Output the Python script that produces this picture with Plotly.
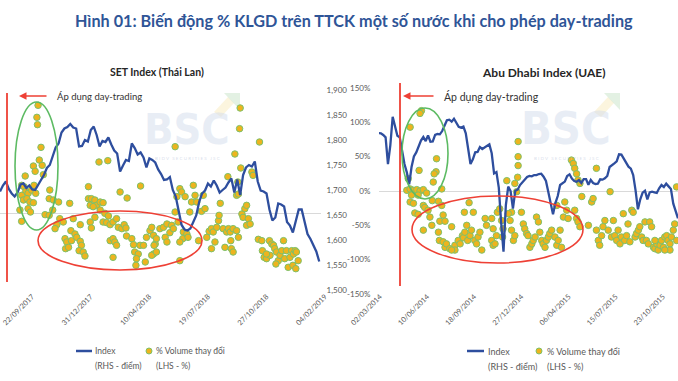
import pandas as pd
import plotly.graph_objects as go

W, H = 678, 381

# ---------------- SET Index (Thái Lan) ----------------
set_start = "2017-08-05"          # first point of the index series (5-day sampling)
set_index = [
    1697, 1709, 1717, 1702, 1693, 1687, 1695, 1711, 1713, 1704,
    1709, 1701, 1700, 1709, 1720, 1730, 1744, 1750, 1769, 1785,
    1793, 1815, 1823, 1826, 1832, 1825, 1823, 1787, 1788, 1800,
    1797, 1820, 1827, 1810, 1787, 1798, 1796, 1805, 1791, 1779,
    1773, 1737, 1749, 1760, 1758, 1793, 1784, 1771, 1775, 1765,
    1745, 1763, 1760, 1755, 1741, 1732, 1720, 1721, 1726, 1700,
    1687, 1659, 1630, 1621, 1619, 1623, 1637, 1649, 1676, 1693,
    1699, 1713, 1707, 1719, 1709, 1695, 1700, 1705, 1715, 1723,
    1695, 1721, 1690, 1730, 1745, 1750, 1747, 1757, 1717, 1699,
    1697, 1693, 1661, 1639, 1645, 1673, 1671, 1667, 1636, 1629,
    1615, 1640, 1661, 1661, 1639, 1612, 1602, 1591, 1577, 1557,
]
# % volume change: day offset from set_start, and value in %
set_vol_day = [
    65, 63, 64, 70, 57, 67, 72, 60, 43, 74, 37, 41, 44, 48, 54, 58, 61, 37, 40, 46,
    51, 57, 34, 48, 52, 37, 85, 84, 91, 100, 77, 84, 90, 151, 169, 184, 119, 151, 156, 162,
    165, 171, 176, 154, 159, 171, 179, 185, 162, 205, 217, 240, 102, 108, 97, 94, 137, 121, 128, 111,
    114, 122, 131, 137, 139, 135, 142, 145, 112, 117, 125, 154, 156, 176, 182, 188, 193, 199, 202, 208,
    212, 215, 188, 193, 196, 199, 193, 216, 225, 228, 230, 236, 233, 232, 239, 245, 248, 250, 256, 259,
    262, 265, 267, 263, 262, 259, 267, 273, 279, 285, 282, 285, 290, 293, 296, 299, 299, 302, 304, 307,
    310, 316, 313, 312, 319, 321, 324, 327, 330, 333, 336, 339, 307, 344, 347, 350, 353, 357, 361, 364,
    367, 361, 370, 373, 374, 376, 381, 384, 387, 390, 393, 394, 395, 398, 398, 404, 407, 389, 401, 406,
    410, 409, 411, 404, 407, 413, 415, 418, 421, 424, 421, 427, 430, 432, 443, 441, 447, 448, 451, 455,
    460, 464, 467, 469, 472, 475, 471, 478, 481, 484, 486, 489, 492, 495, 498, 501, 504, 506, 509, 500,
    505, 461, 455, 307,
]
set_vol_pct = [
    162, 144, 133, 99, 71, 80, 72, 63, 56, 58, 42, 40, 33, 30, 35, 42, 30, 27, 20, 22,
    17, 16, 5, 7, 2, -12, 35, 22, 20, 17, -2, -3, 5, 40, 77, 79, 15, 22, 22, 20,
    12, 17, 16, 12, 10, 5, 0, -4, -6, 32, 23, 41, -8, -13, -17, -23, -17, -26, -31, -38,
    -43, -41, -36, -42, -48, -56, -58, -64, -53, -51, -8, -13, -22, -13, -14, -17, -13, -8, -21, -23,
    -17, -22, -41, -38, -43, -48, -66, -34, -38, -47, -58, -61, -68, -78, -48, -48, -73, -36, -26, -21,
    -33, -46, -38, -48, -61, -63, -58, -23, -21, -16, -36, -43, -29, -18, -23, 100, 2, 25, -13, 37,
    32, 25, -28, -38, -31, -36, 2, 17, 42, 27, 17, -41, -71, 3, 27, 7, -36, -27, -23, -28,
    -43, -53, -21, -11, -3, 15, -23, -51, -28, -23, -28, -41, -53, -58, -23, -26, -36, 55, 89, 47,
    158, 127, 68, 27, 29, -1, -6, 7, 12, -8, -18, -16, 62, 57, 107, -39, -41, -56, -66, -68,
    -41, -46, -48, -53, -58, -71, -76, -63, -56, -41, -68, -56, -81, -66, -56, -61, -56, -58, -71, -78,
    -83, -63, -61, -43,
]
set_xticks = ["2017-09-22", "2017-12-31", "2018-04-10", "2018-07-19", "2018-10-27", "2019-02-04"]
set_rhs_ticks = [1500, 1550, 1600, 1650, 1700, 1750, 1800, 1850, 1900]

# ---------------- Abu Dhabi Index (UAE) ----------------
adx_start = "2014-02-27"
adx_index = [
    5063, 5060, 5044, 5021, 4760, 4943, 5220, 5137, 5037, 5021,
    4872, 4762, 4681, 4565, 4733, 4836, 4875, 4940, 4989, 5024,
    4985, 5040, 4979, 4982, 5044, 5053, 5050, 5082, 5131, 5186,
    5192, 5173, 5202, 5167, 5124, 5115, 5125, 5060, 4921, 4762,
    4807, 4875, 4879, 4927, 4908, 4921, 4934, 4953, 4866, 4671,
    4684, 4532, 4196, 3911, 4364, 4542, 4500, 4328, 4503, 4513,
    4558, 4584, 4616, 4636, 4646, 4642, 4655, 4655, 4665, 4668,
    4639, 4597, 4490, 4367, 4273, 4383, 4451, 4558, 4574, 4591,
    4646, 4662, 4620, 4597, 4591, 4607, 4578, 4616, 4616, 4561,
    4607, 4578, 4568, 4571, 4613, 4610, 4623, 4646, 4733, 4756,
    4769, 4788, 4856, 4853, 4817, 4772, 4736, 4717, 4655, 4506,
    4322, 4419, 4484, 4503, 4419, 4487, 4493, 4487, 4481, 4526,
    4558, 4539, 4571, 4545, 4519, 4377, 4309, 4235,
]
adx_vol_start = "2014-03-02"
adx_vol_day = [
    88, 85, 64, 120, 119, 115, 83, 113, 60, 131, 57, 64, 71, 78, 85, 92, 99, 67, 81, 64,
    71, 74, 81, 92, 95, 102, 106, 110, 92, 111, 124, 131, 134, 127, 138, 124, 126, 134, 138, 141,
    152, 148, 159, 166, 175, 170, 159, 152, 177, 180, 184, 179, 189, 198, 186, 191, 194, 201, 205, 208,
    216, 212, 223, 226, 237, 240, 237, 240, 244, 247, 249, 254, 258, 261, 260, 269, 279, 272, 276, 279,
    283, 286, 286, 290, 293, 293, 293, 292, 300, 304, 307, 311, 314, 318, 322, 325, 329, 332, 336, 339,
    343, 346, 350, 353, 357, 360, 364, 371, 375, 378, 382, 385, 375, 389, 392, 396, 399, 406, 410, 413,
    417, 413, 417, 420, 424, 428, 424, 420, 442, 449, 452, 459, 459, 463, 466, 470, 473, 477, 484, 488,
    491, 495, 498, 502, 505, 509, 512, 516, 519, 523, 526, 530, 534, 537, 541, 544, 548, 551, 555, 558,
    562, 565, 569, 572, 576, 580, 583, 587, 590, 594, 597, 601, 604, 608, 611, 615, 618, 622, 625, 629,
    629, 615, 604, 583,
]
adx_vol_pct = [
    117, 113, 93, 47, 28, 25, 30, 13, 18, 3, 1, 3, 1, 2, 0, 2, -3, -6, -6, -16,
    -18, -32, -34, -21, -24, -28, -38, -50, -57, -14, -15, -21, -35, -44, -44, -60, -72, -74, -82, -77,
    -52, -84, -79, -72, -65, -77, -86, -86, -68, -60, -50, -31, -17, -31, -72, -65, -57, -72, -77, -67,
    -86, -60, -40, -50, -40, -55, -72, -79, -77, -65, -31, -26, -43, -55, -67, 15, -31, -33, -43, -57,
    -72, -65, 11, -1, 72, 50, 37, 20, -31, -48, -55, -62, -65, -82, -77, -72, -67, -38, -45, -60,
    -72, -77, -82, -72, -67, -62, -57, -67, -79, -72, -57, -82, -21, -38, -16, -28, -40, 45, 40, 33,
    25, -28, -40, -45, -52, -8, 11, 16, -50, -16, -11, 33, -57, -72, -79, -65, -52, -43, -57, -1,
    -67, -43, -65, -72, -57, -77, -67, -33, -72, -65, -48, -74, -28, -31, -67, -62, -57, -52, -67, -72,
    -45, -72, -77, -45, -52, -82, -84, -77, -86, -79, -72, -82, -67, -65, -72, -77, -67, -57, -48, 6,
    -72, -86, -86, -72,
]
adx_xticks = ["2014-03-02", "2014-06-10", "2014-09-18", "2014-12-27", "2015-04-06", "2015-07-15", "2015-10-23"]
adx_lhs_ticks = [-150, -100, -50, 0, 50, 100, 150]

# ---------------- build ----------------
LINE_C = "#2E4E9E"
DOT_FILL = "#EDB41E"
DOT_LINE = "#7DC16A"
GRAY = "#595959"
FONT = "Lato"

set_dates = pd.date_range(set_start, periods=len(set_index), freq="5D")
set_vol_dates = pd.Timestamp(set_start) + pd.to_timedelta(set_vol_day, unit="D")
adx_dates = pd.date_range(adx_start, periods=len(adx_index), freq="5D")
adx_vol_dates = pd.Timestamp(adx_vol_start) + pd.to_timedelta(adx_vol_day, unit="D")

marker = dict(size=6.5, color=DOT_FILL, line=dict(color=DOT_LINE, width=1))

fig = go.Figure()
fig.add_trace(go.Scatter(x=set_vol_dates, y=set_vol_pct, mode="markers", marker=marker,
                         xaxis="x", yaxis="y", name="% Volume thay đổi", showlegend=False))
fig.add_trace(go.Scatter(x=set_dates, y=set_index, mode="lines", line=dict(color=LINE_C, width=2.3),
                         xaxis="x", yaxis="y2", name="Index", showlegend=False))
fig.add_trace(go.Scatter(x=adx_vol_dates, y=adx_vol_pct, mode="markers", marker=marker,
                         xaxis="x2", yaxis="y3", name="% Volume thay đổi", showlegend=False))
fig.add_trace(go.Scatter(x=adx_dates, y=adx_index, mode="lines", line=dict(color=LINE_C, width=2.3),
                         xaxis="x2", yaxis="y4", name="Index", showlegend=False))


def fx(px):
    return px / W


def fy(py):
    return 1 - py / H


tickfont = dict(family=FONT, size=8, color=GRAY)
xtickfont = dict(family=FONT, size=7.3, color=GRAY)
fmt = lambda d: pd.Timestamp(d).strftime("%d/%m/%Y")

left_dom_y = [fy(290), fy(90)]
right_dom_y = [fy(294), fy(88)]

fig.update_layout(
    width=W, height=H, autosize=False,
    margin=dict(l=0, r=0, t=0, b=0, pad=0, autoexpand=False),
    paper_bgcolor="white", plot_bgcolor="rgba(0,0,0,0)",
    showlegend=False,
    font=dict(family=FONT, color=GRAY),
    xaxis=dict(domain=[0, fx(321)], range=["2017-08-05", "2019-02-04"], type="date", automargin=False,
               tickvals=set_xticks, ticktext=[fmt(d) for d in set_xticks], tickangle=-45,
               ticklabeloverflow="allow", ticklabelshift=4,
               tickfont=xtickfont, showgrid=False, zeroline=False, showline=False, ticks=""),
    yaxis=dict(domain=left_dom_y, range=[-115, 185], anchor="x", showticklabels=False, automargin=False,
               showgrid=False, zeroline=True, zerolinecolor="#D9D9D9", zerolinewidth=1, showline=False),
    yaxis2=dict(domain=left_dom_y, range=[1500, 1900], anchor="x", overlaying="y", side="right",
                automargin=False, ticklabeloverflow="allow",
                tickvals=set_rhs_ticks, ticktext=[f"{v:,}" for v in set_rhs_ticks],
                tickfont=tickfont, showgrid=False, zeroline=False, showline=False,
                ticks="outside", ticklen=3, tickcolor="rgba(0,0,0,0)"),
    xaxis2=dict(domain=[fx(379), 1], range=["2014-02-28", "2015-11-24"], type="date", automargin=False,
                tickvals=adx_xticks, ticktext=[fmt(d) for d in adx_xticks], tickangle=-45,
                ticklabeloverflow="allow",
                tickfont=xtickfont, showgrid=False, zeroline=False, showline=False, ticks=""),
    yaxis3=dict(domain=right_dom_y, range=[-150, 150], anchor="x2", automargin=False,
                ticklabeloverflow="allow",
                tickvals=adx_lhs_ticks, ticktext=[f"{v}%" for v in adx_lhs_ticks],
                tickfont=tickfont, showgrid=False, zeroline=True, zerolinecolor="#D9D9D9",
                zerolinewidth=1, showline=False, ticks="outside", ticklen=6, tickcolor="rgba(0,0,0,0)"),
    yaxis4=dict(domain=right_dom_y, range=[3500, 5500], anchor="x2", overlaying="y3", side="right",
                automargin=False,
                showticklabels=False, showgrid=False, zeroline=False, showline=False),
)

annotations = []
shapes = []

# main title
annotations.append(dict(x=fx(354), y=fy(20), xref="paper", yref="paper", showarrow=False,
                        text="<b>Hình 01: Biến động % KLGD trên TTCK một số nước khi cho phép day-trading</b>",
                        font=dict(family=FONT, size=16.2, color="#2F5597"), xanchor="center", yanchor="middle"))
# chart titles
annotations.append(dict(x=fx(157), y=fy(72), xref="paper", yref="paper", showarrow=False,
                        text="<b>SET Index (Thái Lan)</b>", font=dict(family=FONT, size=10.5, color="#262626"),
                        xanchor="center", yanchor="middle"))
annotations.append(dict(x=fx(544), y=fy(72), xref="paper", yref="paper", showarrow=False,
                        text="<b>Abu Dhabi Index (UAE)</b>", font=dict(family=FONT, size=12, color="#262626"),
                        xanchor="center", yanchor="middle"))

# watermarks
for cx, py_b, sz, logo_x in [(187, 129, 43, 214), (566, 128, 45, 594)]:
    annotations.append(dict(x=fx(cx), y=fy(py_b), xref="paper", yref="paper", showarrow=False,
                            text="<b>BSC</b>", font=dict(family="DejaVu Sans Condensed", size=sz,
                                                         color="rgba(210,220,236,0.5)"),
                            xanchor="center", yanchor="middle"))
    annotations.append(dict(x=fx(cx), y=fy(py_b + 30), xref="paper", yref="paper", showarrow=False,
                            text="B I D V   S E C U R I T I E S   J S C",
                            font=dict(family=FONT, size=4.5, color="rgba(190,200,220,0.6)"),
                            xanchor="center", yanchor="middle"))
    x0 = logo_x
    shapes.append(dict(type="path", xref="paper", yref="paper", layer="below",
                       path=f"M {fx(x0)},{fy(112)} L {fx(x0+14)},{fy(97)} L {fx(x0+20)},{fy(103)} L {fx(x0+7)},{fy(117)} Z",
                       fillcolor="rgba(250,236,190,0.5)", line=dict(width=0)))
    shapes.append(dict(type="path", xref="paper", yref="paper", layer="below",
                       path=f"M {fx(x0+10)},{fy(93)} L {fx(x0+26)},{fy(93)} L {fx(x0+26)},{fy(110)} Z",
                       fillcolor="rgba(200,228,200,0.5)", line=dict(width=0)))

# red "day-trading" start lines and arrows
RED = "#EE4035"
shapes.append(dict(type="line", xref="paper", yref="paper", x0=fx(7), x1=fx(7), y0=fy(93), y1=fy(282),
                   line=dict(color=RED, width=1.8)))
shapes.append(dict(type="line", xref="paper", yref="paper", x0=fx(400), x1=fx(400), y0=fy(83), y1=fy(286),
                   line=dict(color=RED, width=1.8)))
annotations.append(dict(x=fx(19), y=fy(96), xref="paper", yref="paper", ax=29, ay=0, axref="pixel", ayref="pixel",
                        text="", showarrow=True, arrowhead=2, arrowsize=1, arrowwidth=1.5, arrowcolor=RED,
                        standoff=0))
annotations.append(dict(x=fx(403), y=fy(96), xref="paper", yref="paper", ax=32, ay=0, axref="pixel", ayref="pixel",
                        text="", showarrow=True, arrowhead=2, arrowsize=1, arrowwidth=1.5, arrowcolor=RED,
                        standoff=0))
annotations.append(dict(x=fx(55), y=fy(96), xref="paper", yref="paper", showarrow=False,
                        text="Áp dụng day-trading", font=dict(family=FONT, size=9.5, color="#333333"),
                        xanchor="left", yanchor="middle"))
annotations.append(dict(x=fx(442), y=fy(96), xref="paper", yref="paper", showarrow=False,
                        text="Áp dụng day-trading", font=dict(family=FONT, size=10.5, color="#333333"),
                        xanchor="left", yanchor="middle"))

# ellipses
GREEN = "#5DBB63"
for (x0, x1, y0, y1, c) in [(15, 58, 102, 230, GREEN), (38, 202, 211, 270, RED),
                             (402, 448, 108, 199, GREEN), (412, 583, 196, 263, RED)]:
    shapes.append(dict(type="circle", xref="paper", yref="paper", x0=fx(x0), x1=fx(x1),
                       y0=fy(y1), y1=fy(y0), line=dict(color=c, width=1.6)))

# manual legends
for (lx0, lx1, tx1, mx, tx2, fs) in [(76, 92, 93, 149, 154, 8.5), (467, 484, 486, 539, 545, 9)]:
    shapes.append(dict(type="line", xref="paper", yref="paper", x0=fx(lx0), x1=fx(lx1), y0=fy(351), y1=fy(351),
                       line=dict(color=LINE_C, width=2.5)))
    shapes.append(dict(type="circle", xref="paper", yref="paper", x0=fx(mx - 3), x1=fx(mx + 3),
                       y0=fy(354), y1=fy(348), fillcolor=DOT_FILL, line=dict(color=DOT_LINE, width=1)))
    for tx, lines in [(tx1, ["Index", "(RHS - điểm)"]), (tx2, ["% Volume thay đổi", "(LHS - %)"])]:
        for i, t in enumerate(lines):
            annotations.append(dict(x=fx(tx), y=fy(351 + 15 * i), xref="paper", yref="paper", showarrow=False,
                                    text=t, font=dict(family=FONT, size=fs, color=GRAY),
                                    xanchor="left", yanchor="middle"))

fig.update_layout(annotations=annotations, shapes=shapes)
fig.write_html("out.html", config={"displayModeBar": False},
               post_script="document.body.style.margin='0';document.body.style.overflow='hidden';")
